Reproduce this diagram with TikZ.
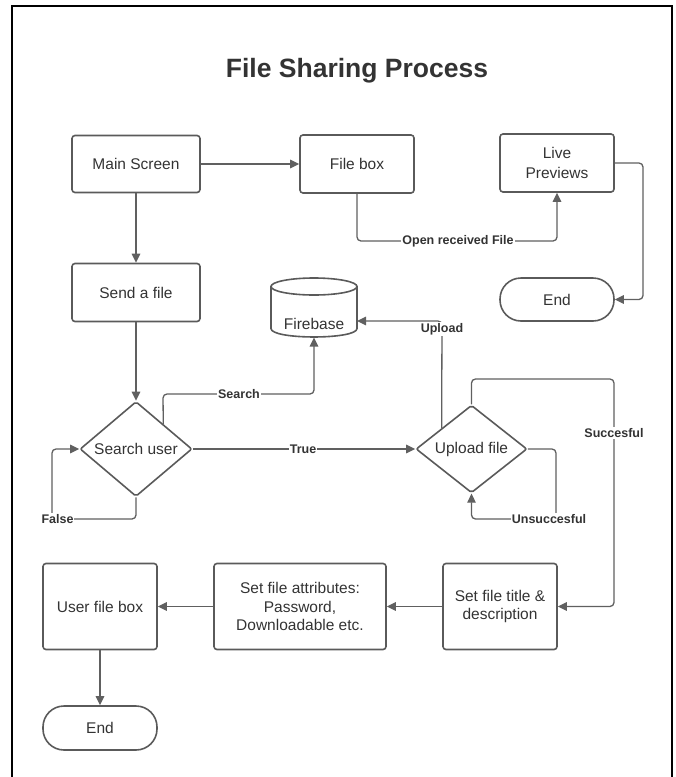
\documentclass[tikz,border=0pt]{standalone}
\usepackage{fontspec}
\setmainfont{Liberation Sans}
\usetikzlibrary{arrows.meta,shapes.geometric,calc}
\definecolor{lc}{HTML}{606060}
\definecolor{bc}{HTML}{5A5A5A}
\definecolor{tc}{HTML}{333333}
\begin{document}
\begin{tikzpicture}[x=1pt,y=-1pt,
  every node/.style={text=tc},
  base/.style={draw=bc, line width=1.6pt, align=center, inner sep=2pt,
    font=\fontsize{15.5}{18.5}\selectfont},
  proc/.style={base, rounded corners=3pt},
  term/.style={base, rounded corners=21pt},
  dec/.style={base, diamond, inner sep=0pt, rounded corners=2pt},
  conn/.style={draw=lc, line width=1.3pt, rounded corners=4pt,
    -{Triangle[length=9pt,width=8.5pt]}},
  lbl/.style={fill=white, inner sep=1pt, text=tc,
    font=\bfseries\fontsize{12.5}{14}\selectfont}
]
\useasboundingbox (0,0) rectangle (676,777);
\draw[line width=2pt, black] (12,777) -- (12,5.5) -- (672,5.5) -- (672,777);

\node[anchor=base, font=\bfseries\fontsize{26.5}{30}\selectfont] (title) at (357,77) {File Sharing Process};

% nodes
\node[proc, minimum width=128, minimum height=57] (ms) at (136,164) {Main Screen};
\node[proc, minimum width=114, minimum height=58] (fb) at (357,164) {File box};
\node[proc, minimum width=114, minimum height=58] (lp) at (557,163) {Live\\[1.5pt]Previews};
\node[proc, minimum width=128, minimum height=58] (sf) at (136,292.5) {Send a file};
\node[term, minimum width=114, minimum height=43] (e1) at (557,299.5) {End};
\node[dec, minimum width=112, minimum height=83] (su) at (136,449) {Search user};
\node[dec, minimum width=111, minimum height=83] (uf) at (471.5,449) {Upload file};
\node[proc, minimum width=114, minimum height=86] (st) at (500,606.5) {Set file title \&\\description};
\node[proc, minimum width=172, minimum height=86] (sa) at (300,606.5) {Set file attributes:\\Password,\\Downloadable etc.};
\node[proc, minimum width=114, minimum height=86] (ub) at (100,606.5) {User file box};
\node[term, minimum width=114, minimum height=44] (e2) at (100,728) {End};

% Firebase cylinder
\draw[bc, line width=1.6pt] (271,286.5) -- (271,328.5) .. controls (271,339.8) and (357,339.8) .. (357,328.5) -- (357,286.5);
\draw[bc, line width=1.6pt] (314,286.5) ellipse [x radius=43, y radius=8.5];
\node[font=\fontsize{15.5}{18.5}\selectfont] (fbase) at (314,324) {Firebase};
\coordinate (fbb) at (314,337.5);
\coordinate (fbr) at (357,321);

% connectors
\draw[conn] (ms.east) -- (fb.west);
\draw[conn] (ms.south) -- (sf.north);
\draw[conn] (sf.south) -- (su.north);
\draw[conn] (fb.south) -- (357,241) -- (557,241) -- (lp.south);
\node[lbl] (l1) at (458,241) {Open received File};
\draw[conn] (lp.east) -- (643,163) -- (643,299.5) -- (e1.east);

\draw[conn] ($(su.north)!0.48!(su.east)$) -- (163,394) -- (314,394) -- (fbb);
\node[lbl] (l2) at (239,394) {Search};
\draw[conn] (su.east) -- (uf.west);
\node[lbl] (l3) at (303,449) {True};
\draw[conn] (su.south) -- (136,519) -- (52,519) -- (52,449) -- (su.west);
\node[lbl] (l4) at (57.5,519) {False};

\draw[conn] ($(uf.north)!0.53!(uf.west)$) -- (442,321) -- (fbr);
\node[lbl] (l5) at (442,329) {Upload};
\draw[conn] (uf.north) -- (471.5,379) -- (614,379) -- (614,606.5) -- (st.east);
\node[lbl] (l6) at (614,433) {Succesful};
\draw[conn] (uf.east) -- (556,449) -- (556,519) -- (471.5,519) -- (uf.south);
\node[lbl] (l7) at (549,519) {Unsuccesful};

\draw[conn] (st.west) -- (sa.east);
\draw[conn] (sa.west) -- (ub.east);
\draw[conn] (ub.south) -- (e2.north);
\end{tikzpicture}
\end{document}
